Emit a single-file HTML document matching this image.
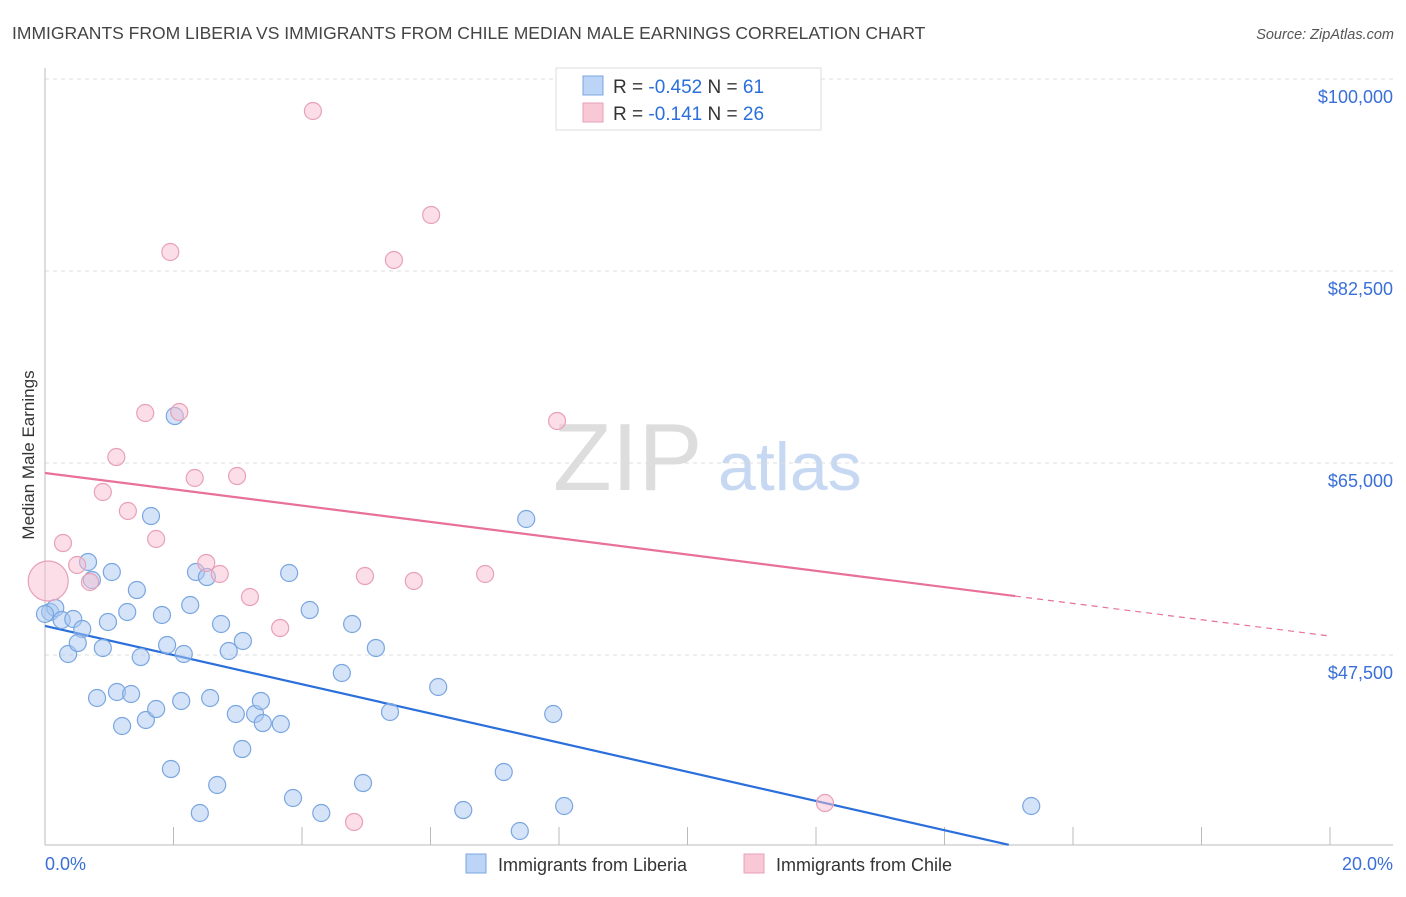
<!DOCTYPE html>
<html><head><meta charset="utf-8">
<style>
body{margin:0;background:#fff;font-family:"Liberation Sans",sans-serif;}
svg text{font-family:"Liberation Sans",sans-serif;}
</style></head>
<body>
<svg id="chart" width="1406" height="892" viewBox="0 0 1406 892">
<text x="12" y="39" font-size="17.5" fill="#444">IMMIGRANTS FROM LIBERIA VS IMMIGRANTS FROM CHILE MEDIAN MALE EARNINGS CORRELATION CHART</text>
<text x="1394" y="39" font-size="14.5" fill="#555" text-anchor="end" font-style="italic">Source: ZipAtlas.com</text>
<g>
<text x="553" y="490" font-size="96" fill="#ddd" font-family="Liberation Serif, serif">ZIP</text>
<text x="718" y="490" font-size="68" fill="#c7d9f2">atlas</text>
</g>
<text transform="translate(34,455) rotate(-90)" font-size="17" fill="#333" text-anchor="middle">Median Male Earnings</text>
<g id="grid"></g>
<g id="ticks"></g>
<g id="lines"></g>
<g id="points"></g>
<g>
<rect x="556" y="68" width="265" height="62" fill="#fff" stroke="#ddd"/>
<rect x="583" y="76" width="20" height="19" fill="#bcd4f5" stroke="#7aa6e0"/>
<rect x="583" y="103" width="20" height="19" fill="#f9c8d6" stroke="#e8a0b8"/>
<text x="613" y="93" font-size="19" fill="#333">R = <tspan fill="#2a6fdb">-0.452</tspan>   N =  <tspan fill="#2a6fdb">61</tspan></text>
<text x="613" y="120" font-size="19" fill="#333">R =   <tspan fill="#2a6fdb">-0.141</tspan>   N = <tspan fill="#2a6fdb">26</tspan></text>
</g>
<g>
<rect x="466" y="854" width="20" height="19" fill="#bcd4f5" stroke="#7aa6e0"/>
<text x="498" y="871" font-size="18" fill="#333">Immigrants from Liberia</text>
<rect x="744" y="854" width="20" height="19" fill="#f9c8d6" stroke="#e8a0b8"/>
<text x="776" y="871" font-size="18" fill="#333">Immigrants from Chile</text>
</g>
<text x="45" y="870" font-size="18" fill="#3a6fd8">0.0%</text>
<text x="1393" y="870" font-size="18" fill="#3a6fd8" text-anchor="end">20.0%</text>
</svg>
<script>
const yTicks=[100000,82500,65000,47500];
const yTickLabels=["$100,000","$82,500","$65,000","$47,500"];
const xTicks=[0,2,4,6,8,10,12,14,16,18,20];
const liberiaX=[0.08,0.16,0.26,0.44,0.58,0.36,0.51,0.90,0.67,0.73,1.04,0.98,1.28,1.43,1.65,1.49,1.82,1.90,2.16,2.26,2.35,2.52,2.02,2.74,2.86,3.08,0.81,1.12,1.34,1.20,1.57,1.73,2.12,2.57,2.97,3.27,3.36,3.39,3.67,1.96,3.07,2.68,2.41,3.86,4.30,3.80,4.12,4.62,4.78,5.15,5.37,4.95,6.12,6.51,7.14,7.39,7.49,7.91,8.08,15.35,0];
const liberiaY=[51417,51782,50688,50779,49867,47589,48591,48136,55975,54334,55063,50506,51417,53422,60167,47315,51144,48409,47589,52055,55063,54607,69282,50323,47862,48774,43578,44125,43943,41026,41573,42575,43305,43578,42120,42120,43305,41299,41208,37106,38929,35648,33096,34463,33096,54972,51599,45857,50323,48136,42302,35830,44581,33369,36833,31455,59894,42120,33734,33734,51235];
const chileX=[4.17,6.01,1.95,5.43,1.56,2.09,7.97,1.11,2.33,2.99,0.90,1.29,0.28,1.73,0.50,0.70,2.51,2.72,3.19,3.66,4.98,5.74,6.85,12.14,4.81,0.05];
const chileY=[97083,87604,84231,83502,69556,69647,68827,65545,63631,63813,62355,60623,57706,58071,55701,54152,55884,54881,52784,49959,54698,54243,54881,34007,32276,54243];
const liberiaTrend=[50150,-1330,15.0];
const chileTrend=[64087,-743,15.1];
const NS="http://www.w3.org/2000/svg";
const X=v=>45+v*64.25;
const Y=v=>79+(100000-v)/91.15;
function mk(t,a,p){const e=document.createElementNS(NS,t);for(const k in a)e.setAttribute(k,a[k]);p.appendChild(e);return e;}
const grid=document.getElementById('grid'),ticks=document.getElementById('ticks'),lines=document.getElementById('lines'),pts=document.getElementById('points');
yTicks.forEach((v,i)=>{
 const l=mk('line',{x1:45,x2:1393,y1:Y(v),y2:Y(v),stroke:'#ddd','stroke-dasharray':'4,4'},grid);
 
 
 const t=mk('text',{x:1393,y:Y(v)+24,'font-size':18,fill:'#3a6fd8','text-anchor':'end'},ticks);
 t.textContent=yTickLabels[i];
 
 
});
const ax=mk('line',{x1:45,x2:45,y1:68,y2:845,stroke:'#bbb'},ticks);


const bx=mk('line',{x1:45,x2:1393,y1:845,y2:845,stroke:'#bbb'},ticks);


xTicks.forEach(v=>{
 const t=mk('line',{x1:X(v),x2:X(v),y1:827,y2:845,stroke:'#bbb'},ticks);
 
 
});
function trend(tr,col,name,dashTo){
 const l=mk('line',{x1:X(0),y1:Y(tr[0]),x2:X(tr[2]),y2:Y(tr[0]+tr[1]*tr[2]),stroke:col,'stroke-width':2.2},lines);
 
 
 if(dashTo){const d=mk('line',{x1:X(tr[2]),y1:Y(tr[0]+tr[1]*tr[2]),x2:X(dashTo),y2:Y(tr[0]+tr[1]*dashTo),stroke:col,'stroke-width':1.2,'stroke-dasharray':'6,5'},lines);
 
 }
}
liberiaX.forEach((x,i)=>{
 const c=mk('circle',{cx:X(x),cy:Y(liberiaY[i]),r:8.5,fill:'rgba(170,200,242,0.5)',stroke:'#7aa6e0','stroke-width':1.2},pts);
 
 
});
chileX.forEach((x,i)=>{
 const c=mk('circle',{cx:X(x),cy:Y(chileY[i]),r:i===chileX.length-1?20:8.5,fill:'rgba(248,190,208,0.5)',stroke:'#e8a0b8','stroke-width':1.2},pts);
 
 
});
trend(liberiaTrend,'#2a6fdb','liberia-trend-line',null);
trend(chileTrend,'#e8709a','chile-trend-line',20);
</script>
</body></html>
